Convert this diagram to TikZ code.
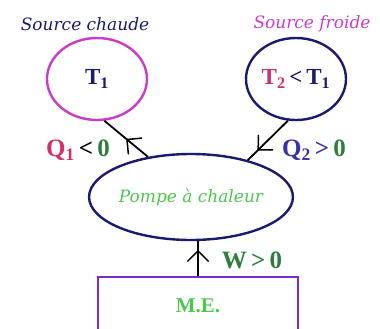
\documentclass[tikz,border=0pt]{standalone}
\usepackage{fontspec}
\setmainfont{Liberation Serif}
\newfontfamily\titrefont{DejaVu Serif}
\usetikzlibrary{shapes.geometric,arrows.meta,decorations.markings}
\definecolor{navy}{HTML}{1A1A70}
\definecolor{orchid}{HTML}{C83CC8}
\definecolor{rose}{HTML}{D0306A}
\definecolor{bleuq}{HTML}{3434A8}
\definecolor{vert}{HTML}{2E7D3A}
\definecolor{vertclair}{HTML}{4CC84C}
\definecolor{violet}{HTML}{7A2AD0}
\begin{document}
\begin{tikzpicture}[x=1pt,y=-1pt,
  fleche/.style={decoration={markings,mark=at position #1 with {\arrow[line width=1.5pt]{Straight Barb[angle=90:15pt]}}},postaction={decorate}}]
  \tikzstyle{src}=[draw,ellipse,line width=2.4pt,minimum width=100pt,minimum height=82pt,inner sep=0pt,font=\fontsize{23}{25}\selectfont\bfseries]
  \tikzstyle{lbl}=[font=\fontsize{25}{27}\selectfont\bfseries,inner sep=0pt]
  \tikzstyle{titre}=[font=\titrefont\itshape\fontsize{17}{19}\selectfont,inner sep=0pt]
  \tikzstyle{flux}=[line width=1.8pt]
  \clip (0,0) rectangle (380,329);
  % Sources
  \node[titre,text=navy] (sc) at (85,24) {Source chaude};
  \node[titre,text=orchid] (sf) at (312,24) {Source froide};
  \node[src,draw=orchid,text=navy] (t1) at (97,79) {T\textsubscript{1}};
  \node[src,draw=navy,text=navy] (t2) at (296,79) {\textcolor{rose}{T\textsubscript{2}}\,<\,T\textsubscript{1}};
  % Pompe et moteur
  \node[titre,draw=navy,ellipse,line width=2.4pt,minimum width=182pt,minimum height=86pt,inner sep=0pt,text=vertclair] (pac) at (191,197) {Pompe à chaleur};
  \node[draw=violet,line width=2.8pt,minimum width=200pt,minimum height=58pt,inner sep=0pt,font=\fontsize{21}{23}\selectfont\bfseries,text=vertclair] (me) at (198,306) {M.E.};
  % Echanges
  \draw[flux,fleche=0.5] (pac.137) -- (t1.-80);
  \draw[flux,fleche=0.76] (t2.-101) -- (pac.33);
  \draw[flux,fleche=0.75] (me.north) -- (pac.south -| me.north);
  \node[lbl] (q1) at (78,150) {\textcolor{rose}{Q\textsubscript{1}}\,<\,\textcolor{vert}{0}};
  \node[lbl] (q2) at (314,150) {\textcolor{bleuq}{Q\textsubscript{2}\,>}\,\textcolor{vert}{0}};
  \node[lbl,text=vert] (w) at (252,260) {W\,>\,0};
\end{tikzpicture}
\end{document}
